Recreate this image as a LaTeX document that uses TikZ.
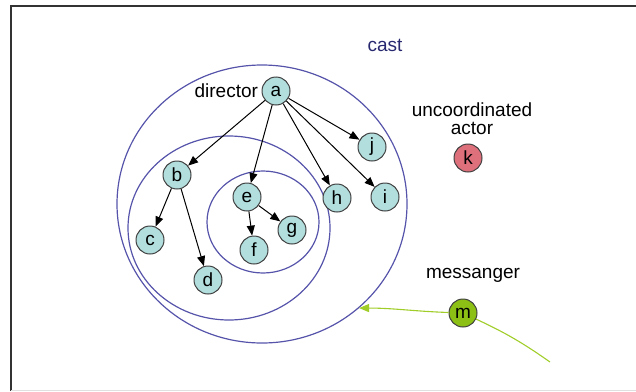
\documentclass[tikz,border=0pt]{standalone}
\usepackage{fontspec}
\setmainfont{Liberation Sans}
\usetikzlibrary{arrows.meta,shapes.geometric,positioning}
\definecolor{ringblue}{RGB}{86,84,170}
\definecolor{castnavy}{RGB}{40,40,112}
\definecolor{actorfill}{RGB}{178,222,222}
\definecolor{lonefill}{RGB}{222,112,124}
\definecolor{msgfill}{RGB}{140,192,20}
\definecolor{msggreen}{RGB}{160,205,40}

\begin{document}
\begin{tikzpicture}[x=1pt,y=-1pt,
  actor/.style={circle,draw=black!75,fill=actorfill,line width=1pt,
    minimum size=28pt,inner sep=0pt,font=\fontsize{19}{19}\selectfont},
  ring/.style={ellipse,draw=ringblue,line width=1.2pt,inner sep=0pt},
  role/.style={font=\fontsize{19}{21}\selectfont,align=center},
  tie/.style={-{Triangle[length=10pt,width=8pt]},line width=1pt},
  msgline/.style={draw=msggreen,line width=1.1pt}]
  \useasboundingbox (0,0) rectangle (636,391);
  \draw[black!80,line width=2pt] (11,391) -- (11,6) -- (636,6);
  \draw[black!12,line width=1pt] (11,390) -- (636,390);

  % nested groups
  \node[ring,minimum width=290pt,minimum height=278pt] (castring) at (262,204) {};
  \node[ring,minimum width=202pt,minimum height=184pt] (bring) at (229,228) {};
  \node[ring,minimum width=112pt,minimum height=102pt] (ering) at (263,222) {};
  \node[role,text=castnavy] (cast) at (385,45) {cast};

  % actors
  \node[actor] (a) at (276,91) {a};
  \node[role,left=0pt of a] (director) {director};
  \node[actor] (b) at (177,175) {b};
  \node[actor] (c) at (150,240) {c};
  \node[actor] (d) at (208,280) {d};
  \node[actor] (e) at (247,197) {e};
  \node[actor] (f) at (254,250) {f};
  \node[actor] (g) at (292,230) {g};
  \node[actor] (h) at (337,198) {h};
  \node[actor] (i) at (385,197) {i};
  \node[actor] (j) at (372,147) {j};

  \node[actor,fill=lonefill] (k) at (468,158) {k};
  \node[role] (loner) at (472,119) {uncoordinated\\[-3pt]actor};

  \node[actor,fill=msgfill] (m) at (463,313) {m};
  \node[role] (messanger) at (473,275) {messanger};

  \foreach \t in {b,e,h,i,j}
    \draw[tie] (a) -- (\t);
  \draw[tie] (b) -- (c);
  \draw[tie] (b) -- (d);
  \draw[tie] (e) -- (f);
  \draw[tie] (e) -- (g);

  % messanger path
  \coordinate (msrc) at (550,362);
  \draw[msgline] (msrc) to[out=145,in=-25] (m);
  \draw[msgline,-{Triangle[length=10pt,width=8pt]},msggreen] (m) to[out=178,in=0] (castring.-47);
\end{tikzpicture}
\end{document}
